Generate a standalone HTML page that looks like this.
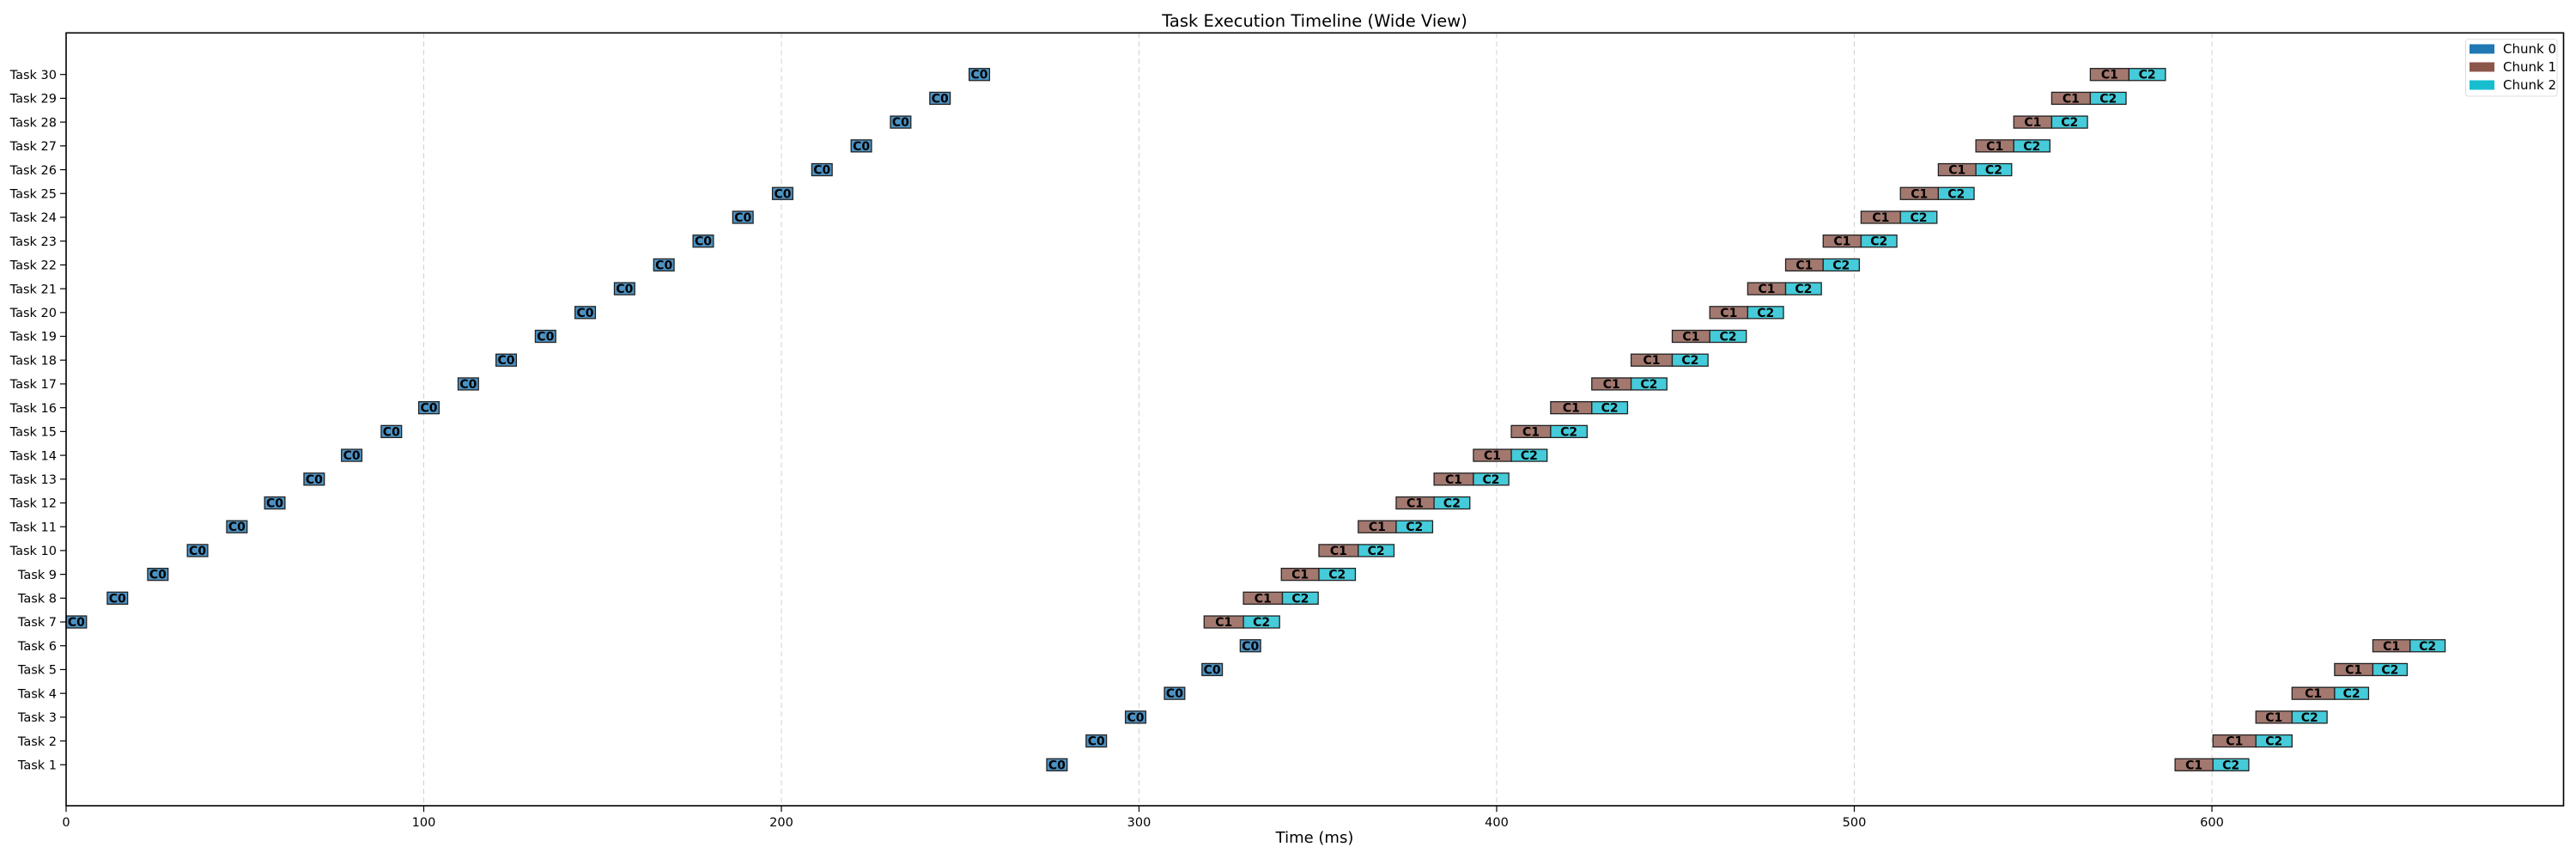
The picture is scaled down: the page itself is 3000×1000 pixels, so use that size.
<!DOCTYPE html>
<html><head><meta charset="utf-8"><style>
html,body{margin:0;padding:0;background:#fff;}
svg{display:block;font-family:"DejaVu Sans","Liberation Sans",sans-serif;}
</style></head><body>
<svg id="chart" width="3000" height="1000" viewBox="0 0 3000 1000">
<text x="1531" y="31" font-size="19.5" text-anchor="middle" fill="#000">Task Execution Timeline (Wide View)</text>
<g id="grid"></g>
<g id="bars"></g>
<rect x="77" y="38.3" width="2908.5" height="899.7" fill="none" stroke="#000" stroke-width="1.6"/>
<g id="xaxis"></g>
<g id="yaxis"></g>
<text x="1531" y="981" font-size="18" text-anchor="middle" fill="#000">Time (ms)</text>
<g>
<rect x="2871.5" y="45.7" width="106.5" height="66.3" rx="3" fill="#fff" stroke="#ddd" stroke-width="1"/>
<g><rect x="2876" y="51.5" width="29" height="11" fill="#1f77b4"/><text x="2915" y="62" font-size="15" fill="#000">Chunk 0</text></g>
<g><rect x="2876" y="72.5" width="29" height="11" fill="#8c564b"/><text x="2915" y="83" font-size="15" fill="#000">Chunk 1</text></g>
<g><rect x="2876" y="93.5" width="29" height="11" fill="#17becf"/><text x="2915" y="104" font-size="15" fill="#000">Chunk 2</text></g>
</g>
</svg>
<script>
const tasks = [1,2,3,4,5,6,7,8,9,10,11,12,13,14,15,16,17,18,19,20,21,22,23,24,25,26,27,28,29,30];
const c0Start = [274.2,285.2,296.2,307.1,317.6,328.3,0,11.5,22.8,33.9,44.9,55.5,66.5,77.0,88.1,98.6,109.6,120.2,131.2,142.3,153.3,164.3,175.3,186.4,197.5,208.5,219.5,230.5,241.5,252.5];
const c0Dur = [5.7,5.7,5.7,5.7,5.7,5.7,5.7,5.7,5.7,5.7,5.7,5.7,5.7,5.7,5.7,5.7,5.7,5.7,5.7,5.7,5.7,5.7,5.7,5.7,5.7,5.7,5.7,5.7,5.7,5.7];
const c1Start = [589.7,600.3,612.3,622.4,634.3,645.0,318.2,329.2,339.8,350.3,361.3,371.9,382.5,393.5,404.1,415.1,426.6,437.6,449.1,459.6,470.2,480.8,491.3,501.9,512.9,523.5,534.0,544.6,555.2,566.0];
const c1Dur = [10.6,12.0,10.1,11.9,10.7,10.4,11.0,10.9,10.5,11.0,10.6,10.6,11.0,10.6,11.0,11.5,11.0,11.5,10.5,10.6,10.6,10.5,10.6,11.0,10.6,10.5,10.6,10.6,10.8,10.8];
const c2Dur = [10.0,10.1,9.8,9.5,9.6,9.8,10.1,10.0,10.2,10.0,10.2,10.0,9.9,10.0,10.2,10.0,10.0,10.0,10.2,10.0,10.0,10.1,10.0,10.2,10.0,10.0,10.1,10.0,10.0,10.2];
const xTicks = [0,100,200,300,400,500,600];

const NS='http://www.w3.org/2000/svg';
const X0=77, PX=4.165, YT1=890.3, YSTEP=27.71, BH=14;
function xs(v){return X0+v*PX;}
function ys(t){return YT1-(t-1)*YSTEP;}
function mk(tag,attrs,parent){const e=document.createElementNS(NS,tag);for(const k in attrs)e.setAttribute(k,attrs[k]);parent.appendChild(e);return e;}
const grid=document.getElementById('grid'),bars=document.getElementById('bars'),xa=document.getElementById('xaxis'),ya=document.getElementById('yaxis');
xTicks.forEach(v=>{
  const x=xs(v);
  const g=mk('line',{x1:x,x2:x,y1:38.3,y2:938,stroke:'#d0d0d0','stroke-width':1,'stroke-dasharray':'6,4'},grid);
  
  
  const t=mk('line',{x1:x,x2:x,y1:938,y2:945,stroke:'#000','stroke-width':1.2},xa);
  
  
  const l=mk('text',{x:x,y:962,'font-size':14.5,'text-anchor':'middle',fill:'#000'},xa);
  
  
  l.textContent=v;
});
tasks.forEach((t,i)=>{
  const y=ys(t);
  const tk=mk('line',{x1:70,x2:77,y1:y,y2:y,stroke:'#000','stroke-width':1.2},ya);
  
  
  const lb=mk('text',{x:66,y:y+5.2,'font-size':14.5,'text-anchor':'end',fill:'#000'},ya);
  
  
  lb.textContent='Task '+t;
  const segs=[[c0Start[i],c0Dur[i],'#4c92c3','C0','chunk-0'],[c1Start[i],c1Dur[i],'#a3786f','C1','chunk-1'],[c1Start[i]+c1Dur[i],c2Dur[i],'#45cbd9','C2','chunk-2']];
  segs.forEach(s=>{
    const r=mk('rect',{x:xs(s[0]),y:y-BH/2,width:s[1]*PX,height:BH,fill:s[2],stroke:'#222','stroke-width':1.3},bars);
    
    
    const tx=mk('text',{x:xs(s[0]+s[1]/2),y:y+5,'font-size':14,'font-weight':'bold','text-anchor':'middle',fill:'#000'},bars);
    
    
    tx.textContent=s[3];
  });
});
</script>
</body></html>
